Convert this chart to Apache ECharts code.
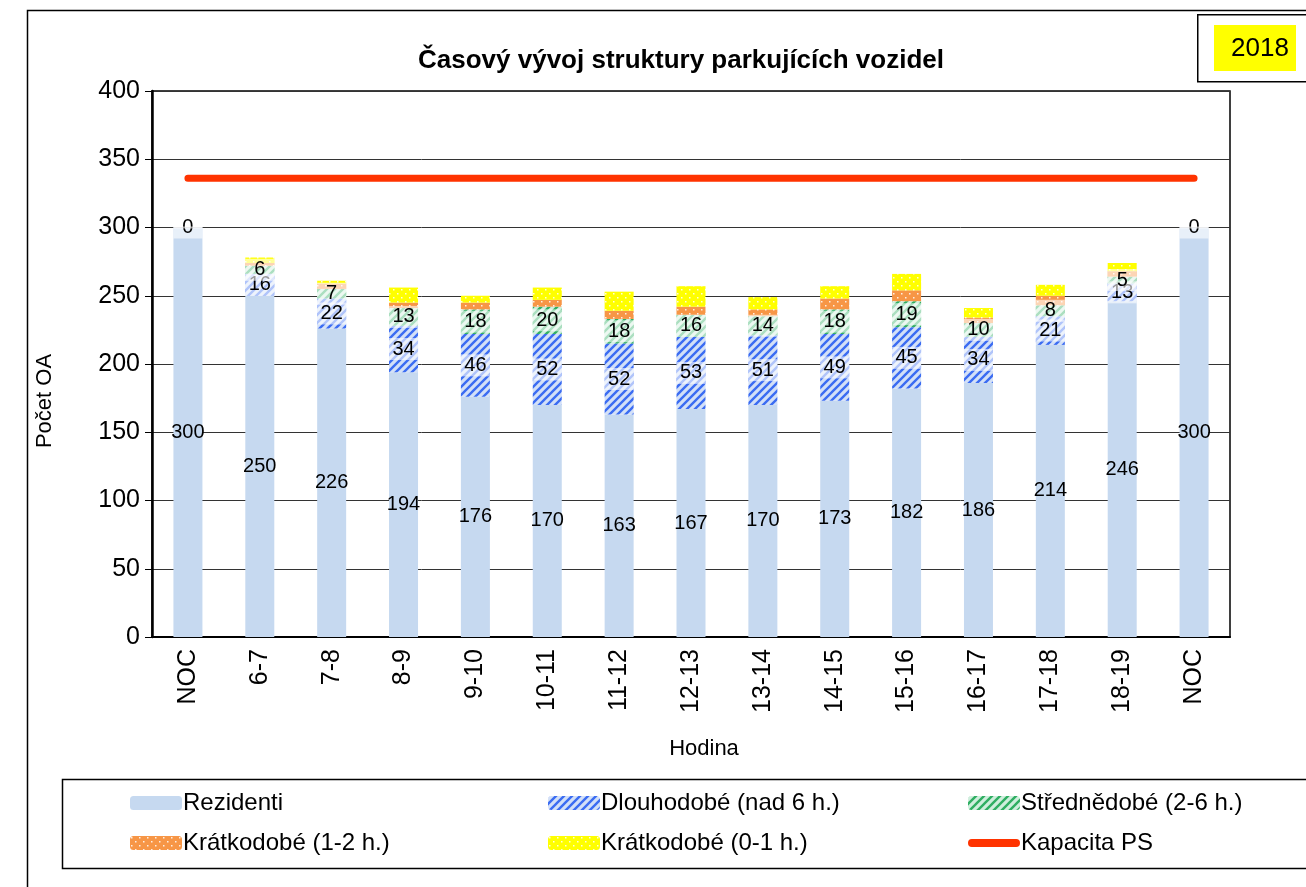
<!DOCTYPE html>
<html>
<head>
<meta charset="utf-8">
<script src="https://cdn.jsdelivr.net/npm/echarts@6/dist/echarts.min.js"></script>
<style>
  html, body { margin: 0; padding: 0; background: #fff; }
  #chart { width: 1306px; height: 887px; }
</style>
</head>
<body>
<div id="chart"></div>
<script>
const hodiny = ['NOC', '6-7', '7-8', '8-9', '9-10', '10-11', '11-12', '12-13', '13-14', '14-15', '15-16', '16-17', '17-18', '18-19', 'NOC']
const rezidenti = [300, 250, 226, 194, 176, 170, 163, 167, 170, 173, 182, 186, 214, 246, 300]
const dlouhodobe = [0, 16, 22, 34, 46, 52, 52, 53, 51, 49, 45, 34, 21, 13, 0]
const strednedobe = [0, 6, 7, 13, 18, 20, 18, 16, 14, 18, 19, 10, 8, 5, 0]
const kratko12 = [0, 2, 4, 4, 5, 5, 6, 6, 5, 8, 8, 4, 7, 4, 0]
const kratko01 = [0, 4, 2, 11, 5, 9, 14, 15, 9, 9, 12, 7, 8, 6, 0]
const kapacita = [336, 336, 336, 336, 336, 336, 336, 336, 336, 336, 336, 336, 336, 336, 336]
const yTicks = { min: 0, max: 400, interval: 50 }

const FONT = '"Liberation Sans", Arial, sans-serif'
const lineIcon = 'path://M4.5,0 H55.5 A4.5,4.5 0 0 1 55.5,9 H4.5 A4.5,4.5 0 0 1 4.5,0 Z'

// vzorky pro vyplne (srafy a tecky)
const stripes = (bg, fg) => {
  const c = document.createElement('canvas')
  c.width = 8; c.height = 8
  const g = c.getContext('2d')
  g.fillStyle = bg
  g.fillRect(0, 0, 8, 8)
  g.strokeStyle = fg
  g.lineWidth = 2.4
  g.beginPath()
  g.moveTo(-2, 10); g.lineTo(10, -2)
  g.moveTo(-2, 2); g.lineTo(2, -2)
  g.moveTo(6, 10); g.lineTo(10, 6)
  g.stroke()
  return { image: c, repeat: 'repeat' }
}
const dots = (bg) => {
  const c = document.createElement('canvas')
  c.width = 8; c.height = 8
  const g = c.getContext('2d')
  g.fillStyle = bg
  g.fillRect(0, 0, 8, 8)
  g.fillStyle = 'rgba(255,255,255,0.85)'
  g.fillRect(1, 1, 1.5, 1.5)
  g.fillRect(5, 5, 1.5, 1.5)
  return { image: c, repeat: 'repeat' }
}

const segLabel = (hideZero) => ({
  show: true,
  position: 'inside',
  color: '#000',
  fontFamily: FONT,
  fontSize: 20,
  backgroundColor: 'rgba(255,255,255,0.6)',
  width: 29,
  align: 'center',
  padding: [1, 0],
  formatter: p => (hideZero && p.value === 0) ? '' : p.value
})

const chart = echarts.init(document.getElementById('chart'))
chart.setOption({
  animation: false,
  title: {
    text: 'Časový vývoj struktury parkujících vozidel',
    left: 413,
    top: 43,
    textStyle: { fontFamily: FONT, fontSize: 26, fontWeight: 'bold', color: '#000' }
  },
  grid: {
    left: 152, right: 76, top: 91, bottom: 250,
    show: true, borderColor: '#000', borderWidth: 1.5
  },
  legend: [
    { left: 125, top: 786, orient: 'vertical', data: ['Rezidenti', 'Krátkodobé (1-2 h.)'] },
    { left: 543, top: 786, orient: 'vertical', data: ['Dlouhodobé (nad 6 h.)', 'Krátkodobé (0-1 h.)'] },
    { left: 963, top: 786, orient: 'vertical', data: ['Střednědobé (2-6 h.)', { name: 'Kapacita PS', icon: lineIcon }] }
  ].map(l => ({
    ...l,
    itemWidth: 52, itemHeight: 14, itemGap: 16,
    textStyle: { fontFamily: FONT, fontSize: 24, color: '#000', padding: [0, 0, 0, -4] }
  })),
  xAxis: {
    type: 'category',
    data: hodiny,
    axisLine: { lineStyle: { color: '#000', width: 2 } },
    axisTick: { length: 7, lineStyle: { color: '#000' } },
    axisLabel: { rotate: 90, fontFamily: FONT, fontSize: 25, color: '#000', margin: 12 }
  },
  yAxis: {
    type: 'value',
    ...yTicks,
    axisLine: { show: true, lineStyle: { color: '#000', width: 2.5 } },
    axisTick: { show: true, length: 7, lineStyle: { color: '#000' } },
    axisLabel: { fontFamily: FONT, fontSize: 25, color: '#000', margin: 12 },
    splitLine: { lineStyle: { color: '#333', width: 1 } }
  },
  series: [
    {
      name: 'Rezidenti', type: 'bar', stack: 'oa', barWidth: 29, data: rezidenti,
      itemStyle: { color: '#c6d9f0' },
      label: { show: true, position: 'inside', color: '#000', fontFamily: FONT, fontSize: 20 }
    },
    {
      name: 'Dlouhodobé (nad 6 h.)', type: 'bar', stack: 'oa', data: dlouhodobe,
      itemStyle: { color: stripes('#d3e0f7', '#3b6cf2') },
      label: segLabel(false)
    },
    {
      name: 'Střednědobé (2-6 h.)', type: 'bar', stack: 'oa', data: strednedobe,
      itemStyle: { color: stripes('#cfeedd', '#2fae62') },
      label: segLabel(true)
    },
    {
      name: 'Krátkodobé (1-2 h.)', type: 'bar', stack: 'oa', data: kratko12,
      itemStyle: { color: dots('#f79646') }
    },
    {
      name: 'Krátkodobé (0-1 h.)', type: 'bar', stack: 'oa', data: kratko01,
      itemStyle: { color: dots('#ffff00') }
    },
    {
      name: 'Kapacita PS', type: 'line', data: kapacita, symbol: 'none', z: 5,
      itemStyle: { color: '#ff3300' },
      lineStyle: { color: '#ff3300', width: 7, cap: 'round' }
    }
  ],
  graphic: [
    { type: 'rect', left: 25, top: 8, shape: { width: 1320, height: 900 },
      style: { fill: 'none', stroke: '#000', lineWidth: 1.5 }, silent: true },
    { type: 'rect', left: 60, top: 777, shape: { width: 1300, height: 89 },
      style: { fill: 'none', stroke: '#000', lineWidth: 1.5 }, silent: true },
    { type: 'rect', left: 1197, top: 14, shape: { width: 130, height: 67 },
      style: { fill: '#fff', stroke: '#000', lineWidth: 1.5 }, silent: true },
    { type: 'rect', left: 1214, top: 25, shape: { width: 82, height: 46 },
      style: { fill: '#ffff00' }, silent: true },
    { type: 'text', x: 1260, y: 49,
      style: { text: '2018', font: '26px ' + FONT, fill: '#000', align: 'center', verticalAlign: 'middle' }, silent: true },
    { type: 'text', x: 45, y: 401, rotation: Math.PI / 2,
      style: { text: 'Počet OA', font: '22px ' + FONT, fill: '#000', align: 'center', verticalAlign: 'middle' }, silent: true },
    { type: 'text', x: 704, y: 749,
      style: { text: 'Hodina', font: '22px ' + FONT, fill: '#000', align: 'center', verticalAlign: 'middle' }, silent: true }
  ]
})
</script>
</body>
</html>
